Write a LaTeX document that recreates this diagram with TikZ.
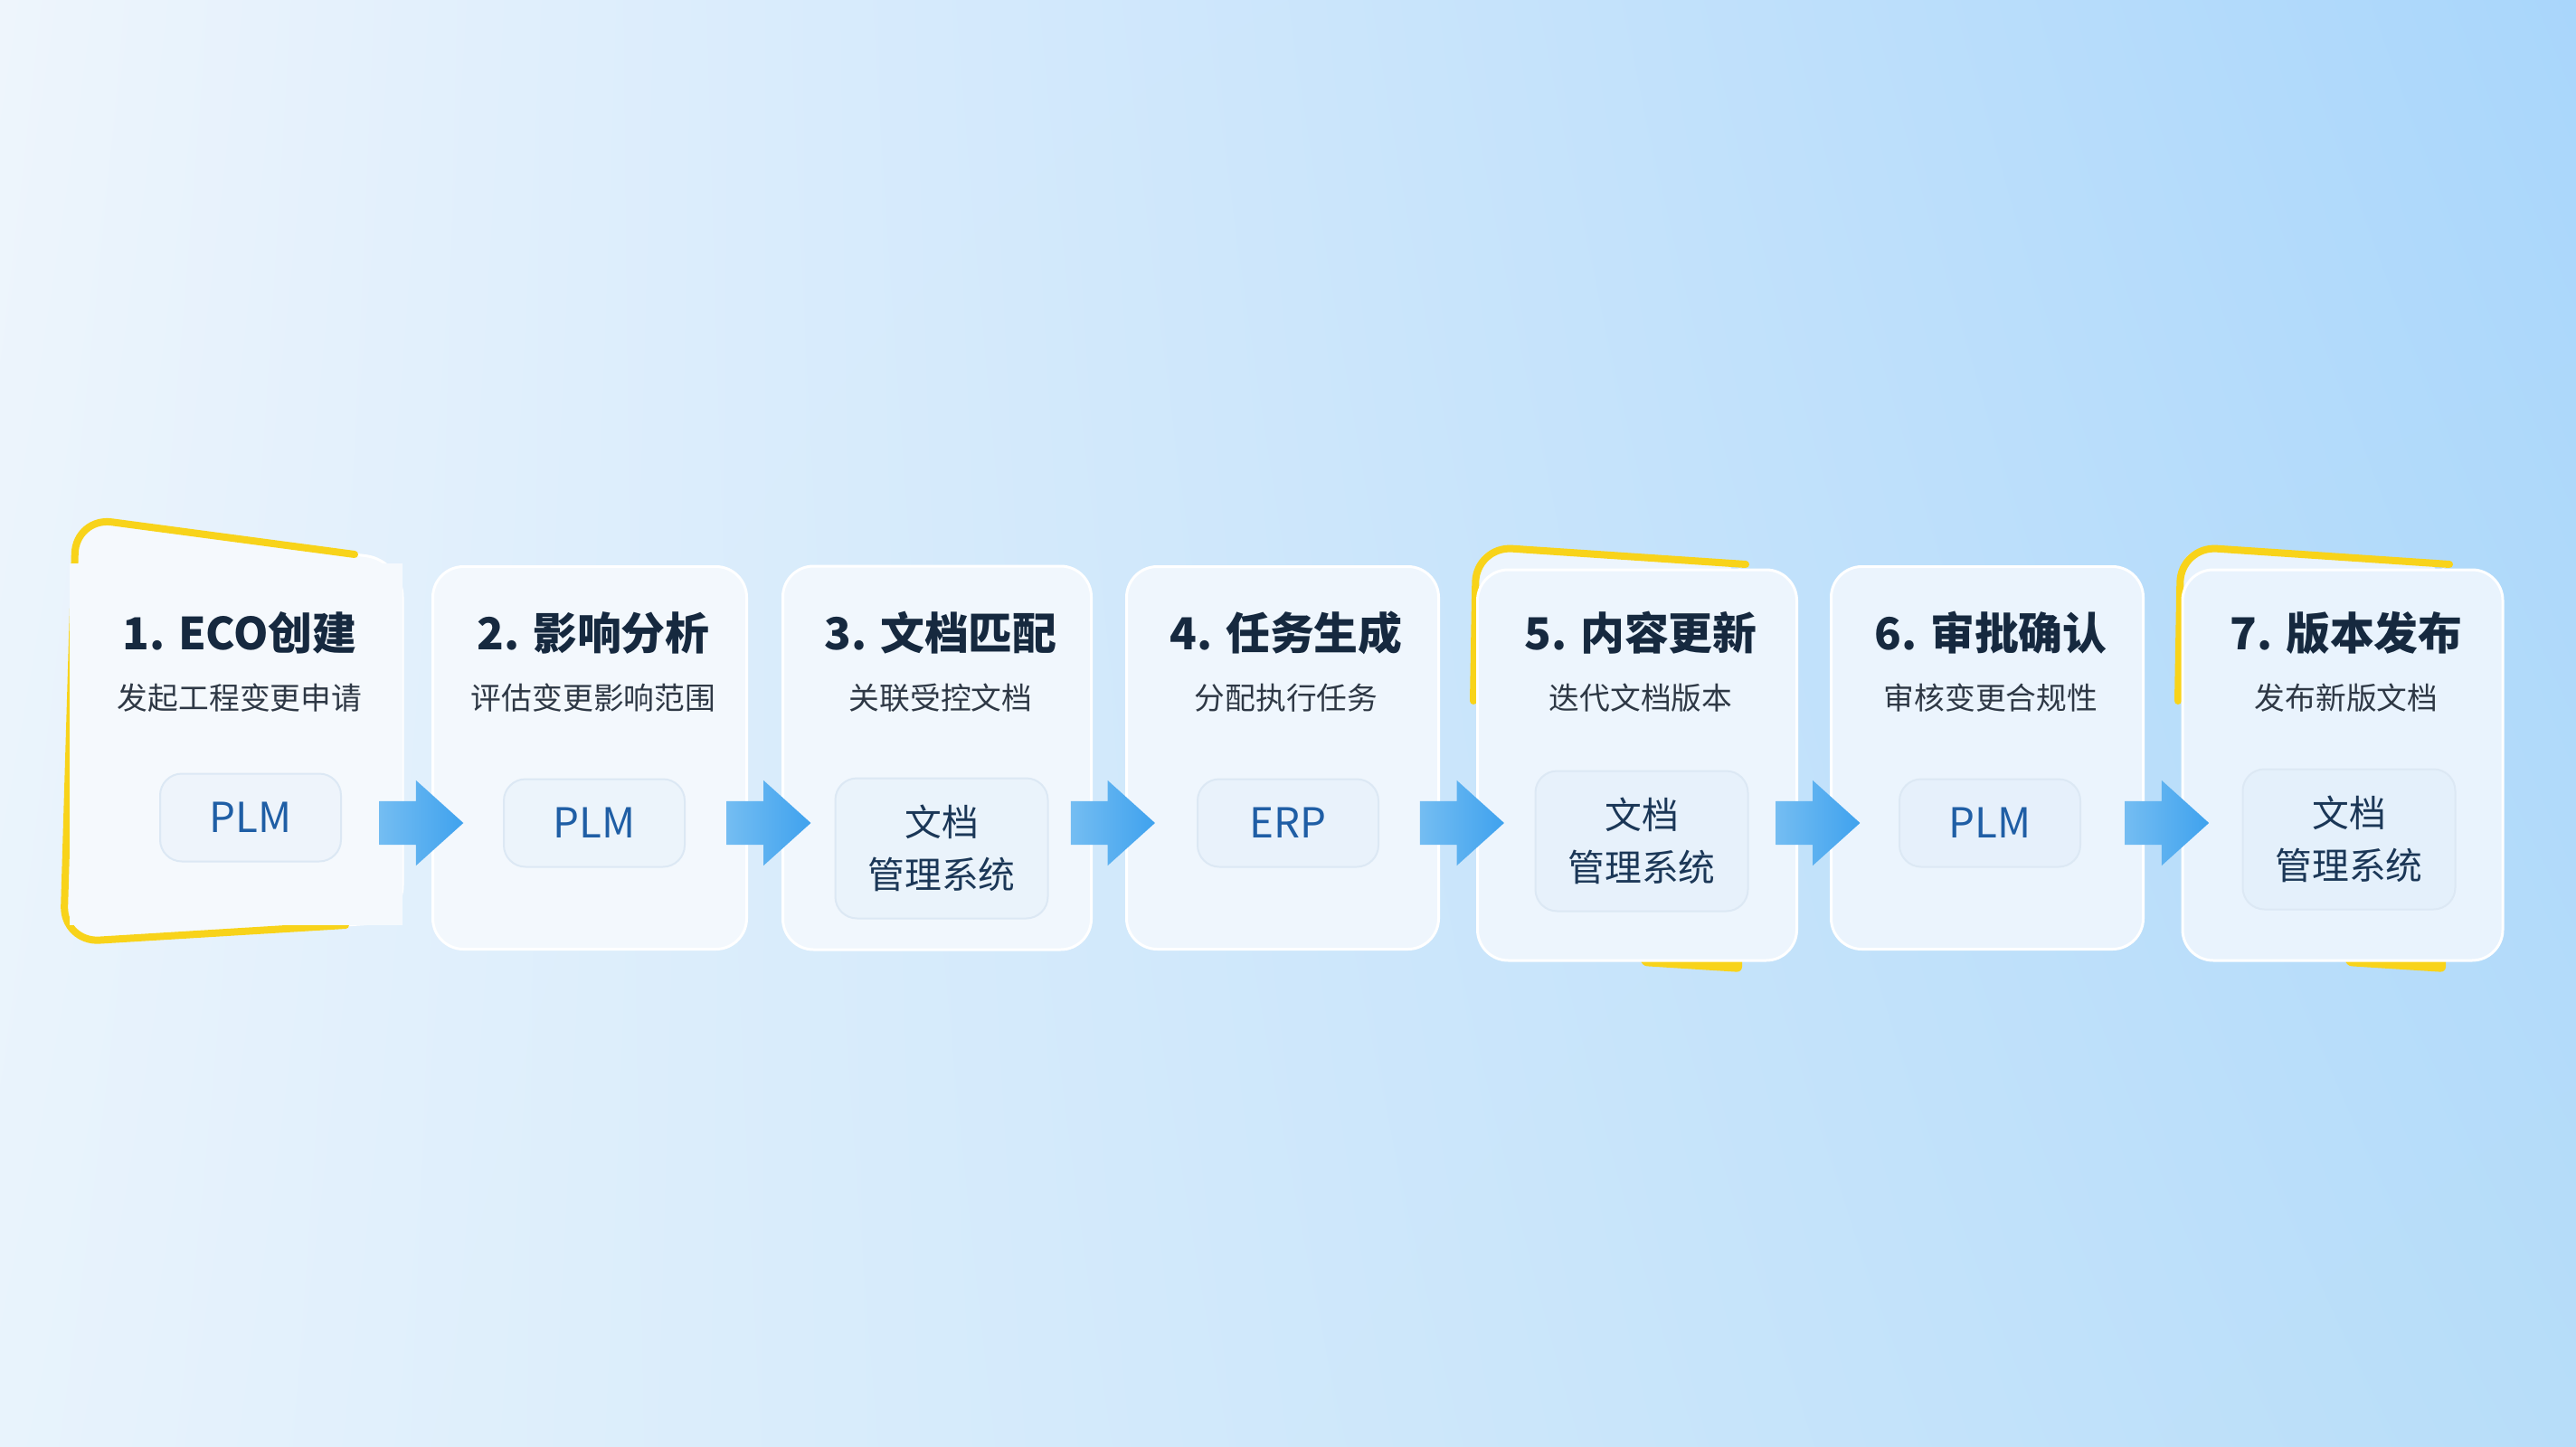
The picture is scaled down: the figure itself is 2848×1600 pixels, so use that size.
\documentclass[tikz,border=0pt]{standalone}
\usepackage{fontspec}
\setmainfont{Noto Sans CJK SC}
\usetikzlibrary{calc,shapes.arrows,shadings}

\def\S{0.01}
\def\U{cm}
\def\AY{910}
\definecolor{bgtl}{HTML}{EEF5FC}
\definecolor{bgtr}{HTML}{A9D6FB}
\definecolor{bgbl}{HTML}{E8F3FC}
\definecolor{bgbr}{HTML}{B7DDF9}
\definecolor{cardleft}{HTML}{F5F9FD}
\definecolor{cardright}{HTML}{E9F3FD}
\definecolor{boxtint}{HTML}{D3E4F4}
\definecolor{boxedge}{HTML}{DCE8F4}
\definecolor{titlecolor}{HTML}{16293F}
\definecolor{subcolor}{HTML}{2E3845}
\definecolor{syscolor}{HTML}{1B3757}
\definecolor{plmcolor}{HTML}{1F5EA5}
\definecolor{hlcolor}{HTML}{F8D31A}
\definecolor{arrowlight}{HTML}{74BDF2}
\definecolor{arrowblue}{HTML}{3FA2EE}

\tikzset{
  card/.style={rounded corners=34*\S\U, draw=white, line width=3*\S\U},
  cardghost/.style={draw=none, fill=none},
  hl/.style={draw=hlcolor, line width=8*\S\U, rounded corners=40*\S\U, line cap=round},
  plmbox/.style={rounded corners=24*\S\U, draw=boxedge, line width=2*\S\U,
      minimum width=200*\S\U, minimum height=97*\S\U, text=plmcolor,
      font=\fontsize{13}{15}\selectfont},
  docbox/.style={rounded corners=24*\S\U, draw=boxedge, line width=2*\S\U,
      minimum width=235*\S\U, minimum height=155*\S\U, text=syscolor, align=center,
      font=\fontsize{11.6}{16.5}\selectfont},
  steptitle/.style={text=titlecolor, font=\fontsize{13.9}{16}\selectfont\bfseries},
  stepsub/.style={text=subcolor, font=\fontsize{9.6}{12}\selectfont},
  flow/.style={single arrow, minimum height=93*\S\U, minimum width=0pt,
      inner xsep=0pt, inner ysep=23.5*\S\U,
      single arrow head extend=23*\S\U, single arrow tip angle=84,
      left color=arrowlight, right color=arrowblue, draw=none}
}

\begin{document}
\begin{tikzpicture}[x=\S\U,y=-\S\U]
\shade[upper left=bgtl, upper right=bgtr, lower left=bgbl, lower right=bgbr]
    (0,0) rectangle (2848,1600);
\coordinate (ay) at (0,\AY);

% first card: tilted yellow frame
\fill[cardleft, rounded corners=40*\S\U]
    (84,572) -- (445,620) -- (445,1019) -- (70,1042) -- cycle;
\draw[white, line width=3*\S\U, rounded corners=40*\S\U] (392,613) -- (445,620) -- (445,1019) -- (382,1023);
\draw[hl] (392,613) -- (84,572) -- (70,1042) -- (382,1023);

% highlighted cards 5 and 7
\foreach \L/\R/\c in {1634/1930/5, 2413/2708/7}{
    \pgfmathtruncatemacro\p{(\c-1)*100/6}
    \fill[cardright!\p!cardleft, rounded corners=30*\S\U]
        (\R,624) -- (\L-2,604) -- (\L-5,775) -- (\L+60,775) -- (\L+60,640) -- (\R-20,640) -- cycle;
    \draw[hl] (\R,624) -- (\L-2,604) -- (\L-5,775);
    \fill[hlcolor, rounded corners=6*\S\U]
        (\L+178,1050) -- (\R-4,1050) -- (\R-4,1075) -- (\L+181,1068) -- cycle;
}

\foreach \i/\cx/\cy/\w/\h/\bx/\by/\boxstyle/\title/\sub/\sys in {
    1/261/823/368/400/277/904/plmbox/{1. ECO创建}/发起工程变更申请/PLM,
    2/652/838/347/423/657/910/plmbox/{2. 影响分析}/评估变更影响范围/PLM,
    3/1036/838/341/424/1041/938/docbox/{3. 文档匹配}/关联受控文档/{文档\\管理系统},
    4/1418/838/345/423/1424/910/plmbox/{4. 任务生成}/分配执行任务/ERP,
    5/1810/846/353/432/1815/930/docbox/{5. 内容更新}/迭代文档版本/{文档\\管理系统},
    6/2197/838/345/423/2200/910/plmbox/{6. 审批确认}/审核变更合规性/PLM,
    7/2590/846/354/432/2597/928/docbox/{7. 版本发布}/发布新版文档/{文档\\管理系统}}{
    \pgfmathtruncatemacro\p{(\i-1)*100/6}
    \colorlet{cardcol}{cardright!\p!cardleft}
    \pgfmathparse{\i==1 ? "cardghost" : "card"}
    \edef\cstyle{\pgfmathresult}
    \node[\cstyle, fill=cardcol, minimum width=\w*\S\U, minimum height=\h*\S\U] (c\i) at (\cx,\cy) {};
    \node[steptitle] (t\i) at (\cx+4,700) {\title};
    \node[stepsub] (d\i) at (\cx+4,772) {\sub};
    \node[\boxstyle, fill=boxtint!22!cardcol] (b\i) at (\bx,\by) {\sys};
}

% arrows between the cards
\foreach \i in {1,...,6}{
    \pgfmathtruncatemacro\j{\i+1}
    \path ($(c\i.east)!.5!(c\j.west)$) coordinate (m\i);
    \node[flow, xshift=-9*\S\U] (a\i) at (m\i |- ay) {};
}
\end{tikzpicture}
\end{document}
